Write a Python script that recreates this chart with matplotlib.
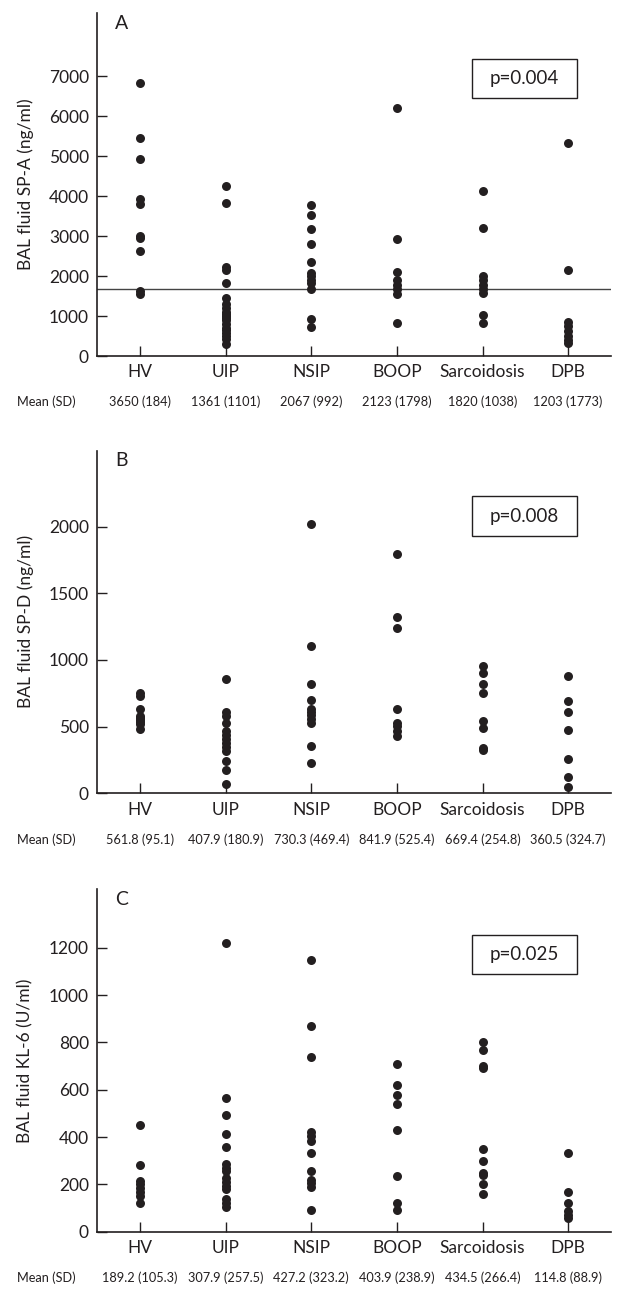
import matplotlib
matplotlib.use('Agg')
import matplotlib.pyplot as plt
from matplotlib.patches import Rectangle

plt.rcParams['font.family'] = ['Lato', 'DejaVu Sans']

groups = ['HV', 'UIP', 'NSIP', 'BOOP', 'Sarcoidosis', 'DPB']

# panel A - SP-A (ng/ml)
spa_hv = [6830, 5460, 4920, 3920, 3800, 3000, 2960, 2620, 1630, 1560]
spa_uip = [4250, 3820, 2230, 2150, 1820, 1440, 1300, 1200, 1100, 1050, 1000,
           950, 900, 800, 700, 650, 580, 500, 420, 300]
spa_nsip = [3780, 3530, 3180, 2790, 2340, 2080, 2000, 1900, 1830, 1670, 920, 720]
spa_boop = [6210, 2930, 2090, 1900, 1780, 1670, 1550, 830]
spa_sarc = [4120, 3200, 2010, 1900, 1780, 1670, 1580, 1030, 830]
spa_dpb = [5320, 2150, 850, 740, 620, 500, 400, 330]
spa_cutoff = 1670
spa_mean = ['3650 (184)', '1361 (1101)', '2067 (992)', '2123 (1798)',
            '1820 (1038)', '1203 (1773)']

# panel B - SP-D (ng/ml)
spd_hv = [750, 730, 635, 580, 565, 550, 535, 520, 480]
spd_uip = [855, 610, 580, 530, 470, 440, 405, 375, 345, 320, 245, 175, 70]
spd_nsip = [2020, 1105, 817, 700, 630, 610, 585, 560, 525, 355, 225]
spd_boop = [1795, 1320, 1237, 632, 530, 505, 470, 432]
spd_sarc = [955, 905, 817, 750, 542, 492, 342, 325]
spd_dpb = [882, 692, 607, 475, 257, 120, 50]
spd_mean = ['561.8 (95.1)', '407.9 (180.9)', '730.3 (469.4)', '841.9 (525.4)',
            '669.4 (254.8)', '360.5 (324.7)']

# panel C - KL-6 (U/ml)
kl6_hv = [450, 284, 214, 200, 183, 169, 152, 120]
kl6_uip = [1221, 565, 495, 412, 356, 285, 270, 255, 225, 210, 195, 180, 140, 120, 105]
kl6_nsip = [1150, 870, 737, 420, 405, 385, 333, 257, 220, 205, 187, 92]
kl6_boop = [710, 620, 580, 540, 430, 235, 120, 90]
kl6_sarc = [800, 770, 700, 690, 350, 300, 250, 240, 200, 160]
kl6_dpb = [333, 169, 120, 87, 70, 56]
kl6_mean = ['189.2 (105.3)', '307.9 (257.5)', '427.2 (323.2)', '403.9 (238.9)',
            '434.5 (266.4)', '114.8 (88.9)']

panels = [
    ('A', [spa_hv, spa_uip, spa_nsip, spa_boop, spa_sarc, spa_dpb], spa_mean,
     'BAL fluid SP-A (ng/ml)', 'p=0.004', 8570, range(0, 8000, 1000), 0.72403),
    ('B', [spd_hv, spd_uip, spd_nsip, spd_boop, spd_sarc, spd_dpb], spd_mean,
     'BAL fluid SP-D (ng/ml)', 'p=0.008', 2570, range(0, 2001, 500), 0.38504),
    ('C', [kl6_hv, kl6_uip, kl6_nsip, kl6_boop, kl6_sarc, kl6_dpb], kl6_mean,
     'BAL fluid KL-6 (U/ml)', 'p=0.025', 1449, range(0, 1201, 200), 0.04519),
]

ink = '#231f20'
fig = plt.figure(figsize=(6.23, 12.9), dpi=100)

for letter, data, means, ylab, ptxt, ytop, yticks, bottom in panels:
    ax = fig.add_axes([0.1562, bottom, 0.8245, 0.2657])
    for i, vals in enumerate(data):
        ax.scatter([i] * len(vals), vals, s=42, color=ink, zorder=3,
                   linewidths=0)
    if letter == 'A':
        ax.axhline(spa_cutoff, color='#444444', lw=1)
    ax.set_xlim(-0.5, 5.5)
    ax.set_ylim(0, ytop)
    ax.set_yticks(list(yticks))
    ax.set_xticks(range(len(groups)))
    ax.set_xticklabels(groups)
    for s in ['top', 'right']:
        ax.spines[s].set_visible(False)
    for s in ['left', 'bottom']:
        ax.spines[s].set_color(ink)
        ax.spines[s].set_linewidth(1.2)
    ax.tick_params(direction='in', length=7, width=1, color=ink,
                   labelsize=12.5, labelcolor=ink)
    ax.tick_params(axis='x', pad=6)
    ax.tick_params(axis='y', pad=6)
    ax.set_ylabel(ylab, fontsize=12.5, color=ink, labelpad=11)
    ax.text(0.035, 0.995, letter, transform=ax.transAxes, fontsize=14,
            color=ink, va='top', ha='left')
    ax.add_patch(Rectangle((0.730, 0.752), 0.204, 0.114, transform=ax.transAxes,
                           fill=False, edgecolor=ink, lw=1))
    ax.text(0.832, 0.809, ptxt, transform=ax.transAxes, fontsize=13.5,
            color=ink, ha='center', va='center')
    # mean (SD) row under the axis
    ax.annotate('Mean (SD)', xy=(0, 0), xycoords='axes fraction',
                xytext=(-80, -46), textcoords='offset pixels',
                fontsize=9.2, color=ink, ha='left', va='center')
    for i, m in enumerate(means):
        ax.annotate(m, xy=(i, 0), xycoords=('data', 'axes fraction'),
                    xytext=(0, -46), textcoords='offset pixels',
                    fontsize=9.2, color=ink, ha='center', va='center')

fig.savefig('out.png', dpi=100)
